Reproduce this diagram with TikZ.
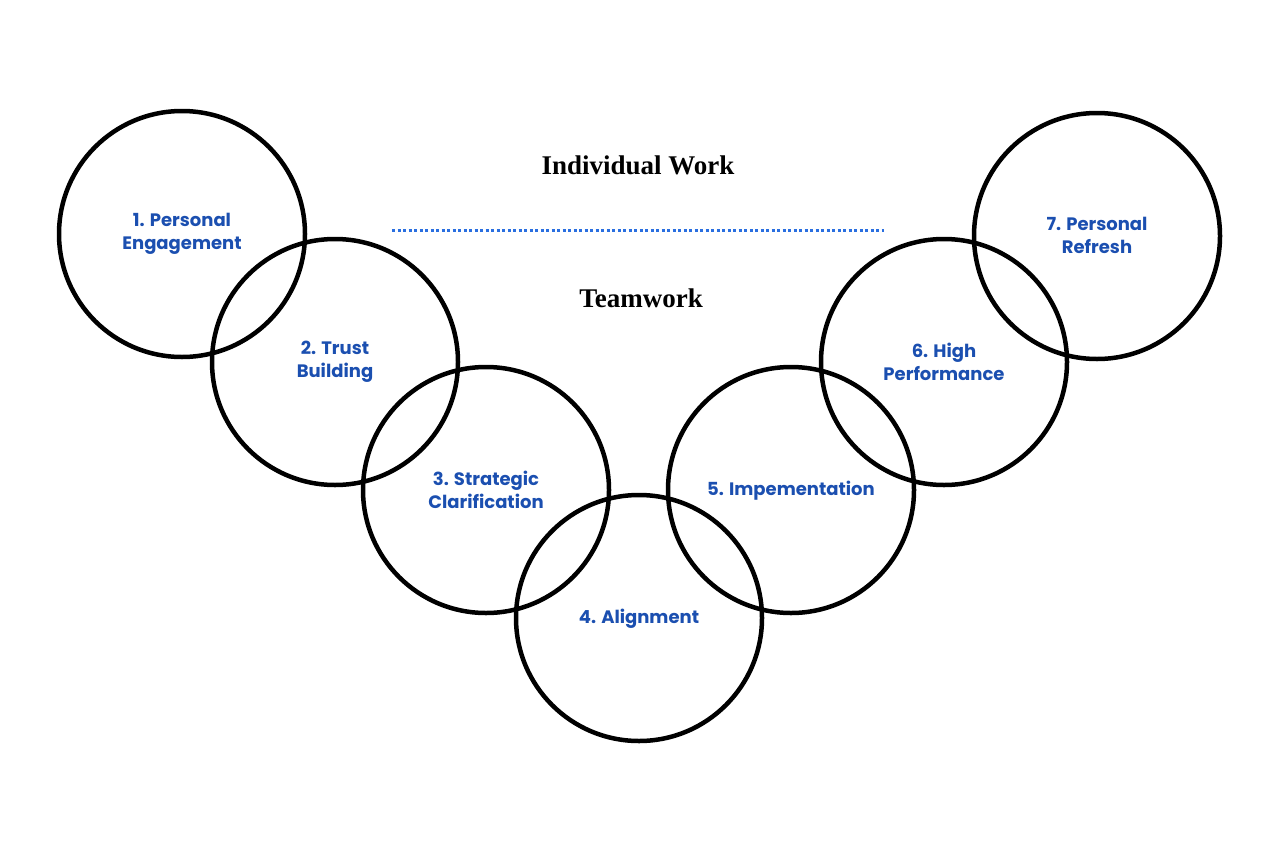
\documentclass[tikz,border=0pt]{standalone}
\usepackage{fontspec}
\setmainfont{Liberation Serif}
\newfontfamily\pop{Poppins}
\definecolor{tb}{HTML}{1B4FB0}
\definecolor{db}{HTML}{2A6FE0}
\begin{document}
\begin{tikzpicture}[x=1pt,y=-1pt,
  ring/.style={circle,draw=black,line width=4.5pt,minimum size=246pt,inner sep=0pt},
  lab/.style={text=tb,font=\pop\bfseries\fontsize{18}{23}\selectfont,align=center},
  ttl/.style={font=\bfseries\fontsize{27}{30}\selectfont}]
\useasboundingbox (0,0) rectangle (1280,854);
\node[ring] (c1) at (182,234) {};
\node[ring] (c2) at (335,362) {};
\node[ring] (c3) at (486,490) {};
\node[ring] (c4) at (639,618) {};
\node[ring] (c5) at (791,490) {};
\node[ring] (c6) at (944,362) {};
\node[ring] (c7) at (1097,236) {};
\node[lab] (l1) at (182,234) {1. Personal\\Engagement};
\node[lab] (l2) at (335,362) {2. Trust\\Building};
\node[lab] (l3) at (486,490) {3. Strategic\\Clarification};
\node[lab] (l4) at (639,619) {4. Alignment};
\node[lab] (l5) at (791,491) {5. Impementation};
\node[lab] (l6) at (944,362) {6. High\\Performance};
\node[lab] (l7) at (1097,235) {7. Personal\\Refresh};
\node[ttl] (t1) at (638,165) {Individual Work};
\node[ttl] (t2) at (641,298) {Teamwork};
\coordinate (d1) at (392,230);
\coordinate (d2) at (884,230);
\draw[db,line width=3pt,dash pattern=on 3pt off 2.5pt] (d1) -- (d2);
\end{tikzpicture}
\end{document}
